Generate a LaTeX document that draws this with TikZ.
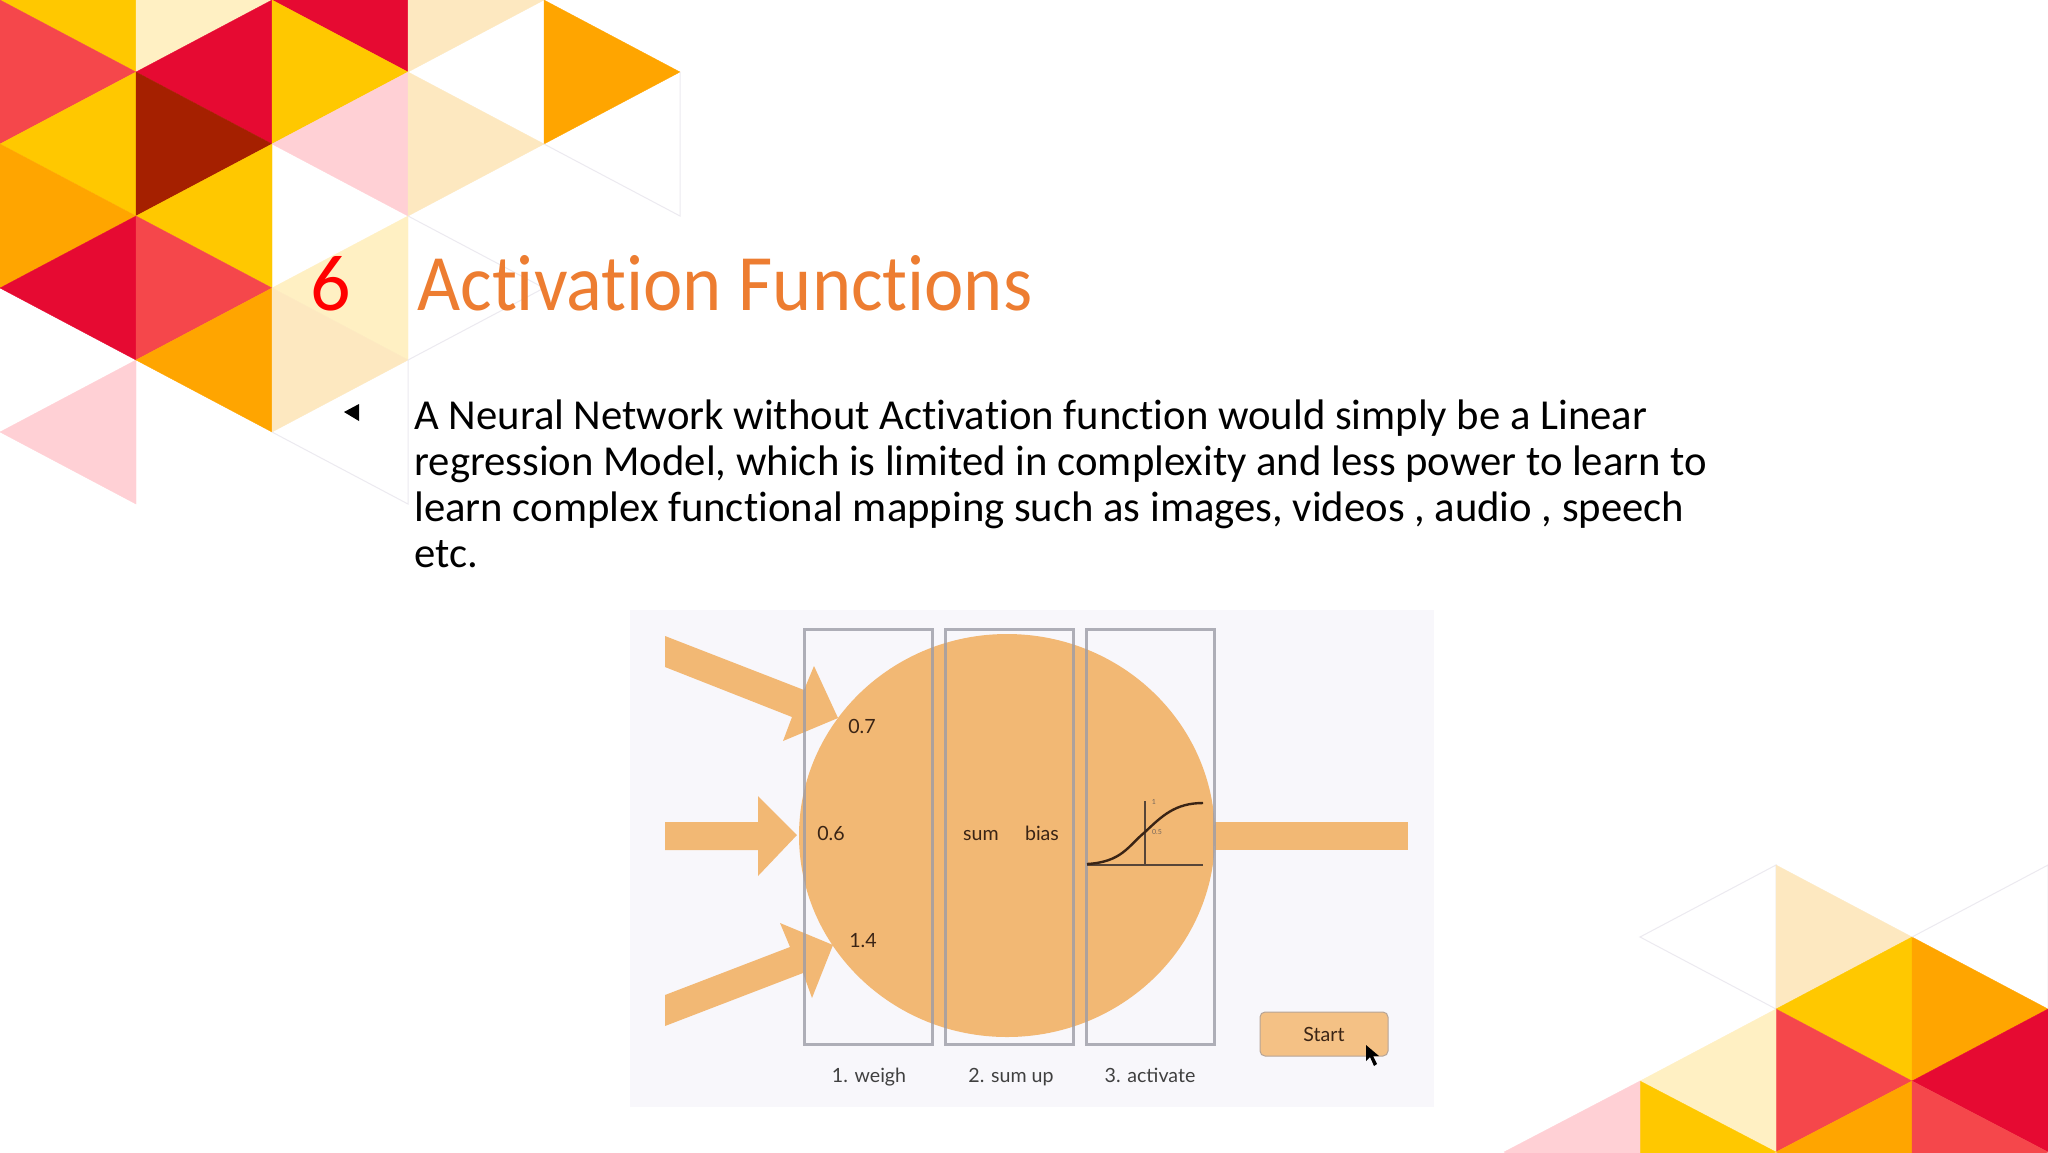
\documentclass[tikz,border=0pt]{standalone}
\usepackage{fontspec}
\setmainfont[Ligatures=NoCommon]{Carlito}
\newfontfamily\lato{Lato}
\definecolor{cYel}{HTML}{FFC800}
\definecolor{cCor}{HTML}{F5474B}
\definecolor{cOra}{HTML}{FFA500}
\definecolor{cCri}{HTML}{E60A32}
\definecolor{cDrk}{HTML}{A52000}
\definecolor{cPnk}{HTML}{FFD0D5}
\definecolor{cCrm}{HTML}{FFF0C3}
\definecolor{cLcr}{HTML}{FDE8C0}
\definecolor{cFnt}{HTML}{ECEAF0}
\definecolor{cBg}{HTML}{F8F7FB}
\definecolor{cSun}{HTML}{F2B874}
\definecolor{cBox}{HTML}{9C9CA6}
\definecolor{cTxt}{HTML}{3A2415}
\definecolor{cTitle}{HTML}{ED7D31}
\tikzset{
 tri/.style={fill=#1,draw=#1,line width=0.15pt},
 ghost/.style={draw=cFnt,line width=0.5pt},
 sun/.style={fill=cSun},
 stepbox/.style={draw=cBox,line width=1.5pt,opacity=0.8},
 lab/.style={font=\lato\fontsize{9.8}{11}\selectfont,text=cTxt,inner sep=0pt,anchor=base},
 caplab/.style={font=\lato\fontsize{9.8}{11}\selectfont,text=black!75,inner sep=0pt,anchor=base},
 tiny/.style={font=\lato\fontsize{3.5}{4}\selectfont,text=cTxt!70,inner sep=0pt,anchor=center},
 body/.style={font=\fontsize{21.35}{24}\selectfont,text=black,inner sep=0pt,anchor=base west},
 heading/.style={font=\fontsize{40}{48}\selectfont,inner sep=0pt,anchor=base west},
}
\begin{document}
\begin{tikzpicture}[x=0.5pt,y=-0.5pt]
\useasboundingbox (0,0) rectangle (2048,1152);
\fill[white] (0,0) rectangle (2048,1152);
\begin{scope}
\clip (0,0) rectangle (2048,1152);
% top-left mosaic
\fill[tri=cYel] (0,0)--(136,0)--(136,72)--cycle;
\fill[tri=cCor] (0,0)--(0,144)--(136,72)--cycle;
\fill[tri=cYel] (0,144)--(136,72)--(136,216)--cycle;
\fill[tri=cOra] (0,144)--(0,288)--(136,216)--cycle;
\fill[tri=cCri] (0,288)--(136,216)--(136,360)--cycle;
\fill[tri=cPnk] (0,432)--(136,360)--(136,504)--cycle;
\fill[tri=cCrm] (136,0)--(272,0)--(136,72)--cycle;
\fill[tri=cCri] (136,72)--(272,0)--(272,144)--cycle;
\fill[tri=cDrk] (136,72)--(136,216)--(272,144)--cycle;
\fill[tri=cYel] (136,216)--(272,144)--(272,288)--cycle;
\fill[tri=cCor] (136,216)--(136,360)--(272,288)--cycle;
\fill[tri=cOra] (136,360)--(272,288)--(272,432)--cycle;
\fill[tri=cCri] (272,0)--(408,0)--(408,72)--cycle;
\fill[tri=cYel] (272,0)--(272,144)--(408,72)--cycle;
\fill[tri=cPnk] (272,144)--(408,72)--(408,216)--cycle;
\fill[tri=cCrm] (272,288)--(408,216)--(408,360)--cycle;
\fill[tri=cLcr] (272,288)--(272,432)--(408,360)--cycle;
\draw[ghost] (272,432)--(408,504)--(408,360);
\fill[tri=cLcr] (408,0)--(544,0)--(408,72)--cycle;
\fill[tri=cLcr] (408,72)--(408,216)--(544,144)--cycle;
\draw[ghost] (408,216)--(544,288)--(408,360);
\fill[tri=cOra] (544,0)--(544,144)--(680,72)--cycle;
\draw[ghost] (544,144)--(680,216)--(680,72);
% bottom-right mosaic
\draw[ghost] (1776,1009)--(1640,937)--(1776,865)--(1776,1009);
\fill[tri=cLcr] (1776,865)--(1776,1009)--(1912,937)--cycle;
\fill[tri=cYel] (1776,1009)--(1912,937)--(1912,1081)--cycle;
\fill[tri=cOra] (1912,937)--(1912,1081)--(2048,1009)--cycle;
\draw[ghost] (1912,937)--(2048,865)--(2048,1009);
\fill[tri=cCor] (1776,1009)--(1776,1152)--(1912,1081)--cycle;
\fill[tri=cCri] (1912,1081)--(2048,1009)--(2048,1152)--cycle;
\fill[tri=cOra] (1776,1152)--(1912,1081)--(1912,1224)--cycle;
\fill[tri=cCor] (1912,1081)--(1912,1224)--(2048,1152)--cycle;
\fill[tri=cCrm] (1640,1081)--(1776,1009)--(1776,1152)--cycle;
\fill[tri=cYel] (1640,1081)--(1640,1224)--(1776,1152)--cycle;
\fill[tri=cPnk] (1640,1081)--(1504,1152)--(1640,1224)--cycle;
\end{scope}
% heading
\node[heading,text=red] (num) at (310,310) {6};
\node[heading,text=cTitle,xscale=0.931,transform shape] (title) at (417,310) {Activation Functions};
% bullet
\fill[black] (344,412)--(359,404)--(359,421)--cycle;
\node[body] (l1) at (414,429.3) {A Neural Network without Activation function would simply be a Linear};
\node[body] (l2) at (414,475.3) {regression Model, which is limited in complexity and less power to learn to};
\node[body] (l3) at (414,521.3) {learn complex functional mapping such as images, videos , audio , speech};
\node[body] (l4) at (414,567.3) {etc.};
% embedded picture
\fill[cBg] (630,610) rectangle (1434,1107);
\fill[sun] (1007,835.5) ellipse [x radius=208,y radius=201.5];
\fill[sun] (665,636)--(665,667)--(792,717)--(783,741)--(838,718)--(814,666)--(804,690)--cycle;
\fill[sun] (665,822)--(758,822)--(758,796)--(797,835)--(758,876)--(758,850)--(665,850)--cycle;
\fill[sun] (665,995)--(665,1026)--(803,973)--(812,998)--(833,945)--(780,923)--(790,947)--cycle;
\fill[sun] (1215,822) rectangle (1408,850);
\draw[stepbox] (804,629) rectangle (932,1044);
\draw[stepbox] (945,629) rectangle (1073,1044);
\draw[stepbox] (1086,629) rectangle (1214,1044);
\node[lab] (w1) at (862,733) {0.7};
\node[lab] (w2) at (831,840) {0.6};
\node[lab] (w3) at (863,947) {1.4};
\node[lab] (sum) at (981,840) {sum};
\node[lab] (bias) at (1042,840) {bias};
% activation plot
\draw[cTxt!85,line width=0.8pt] (1087,865)--(1203,865);
\draw[cTxt!85,line width=0.7pt] (1145,801)--(1145,865);
\draw[cTxt,line width=1.2pt] (1087,864) .. controls (1122,862) and (1128,846) .. (1145,832) .. controls (1162,816) and (1175,803) .. (1203,803);
\node[tiny] (t1) at (1154,802) {1};
\node[tiny] (t5) at (1157,832) {0.5};
\node[caplab] (c1) at (869,1082) {1. weigh};
\node[caplab] (c2) at (1011,1082) {2. sum up};
\node[caplab] (c3) at (1150,1082) {3. activate};
\node[draw=cBox!70!cSun,fill=cSun!88!white,line width=0.5pt,rounded corners=2.5pt,minimum width=64pt,minimum height=22pt,inner sep=0pt,font=\lato\fontsize{9.8}{11}\selectfont,text=cTxt] (start) at (1324,1034) {Start};
% pointer
\fill[black] (1366,1045)--(1366,1061)--(1370,1057)--(1374,1066)--(1377,1064)--(1373,1056)--(1379,1056)--cycle;
\end{tikzpicture}
\end{document}
